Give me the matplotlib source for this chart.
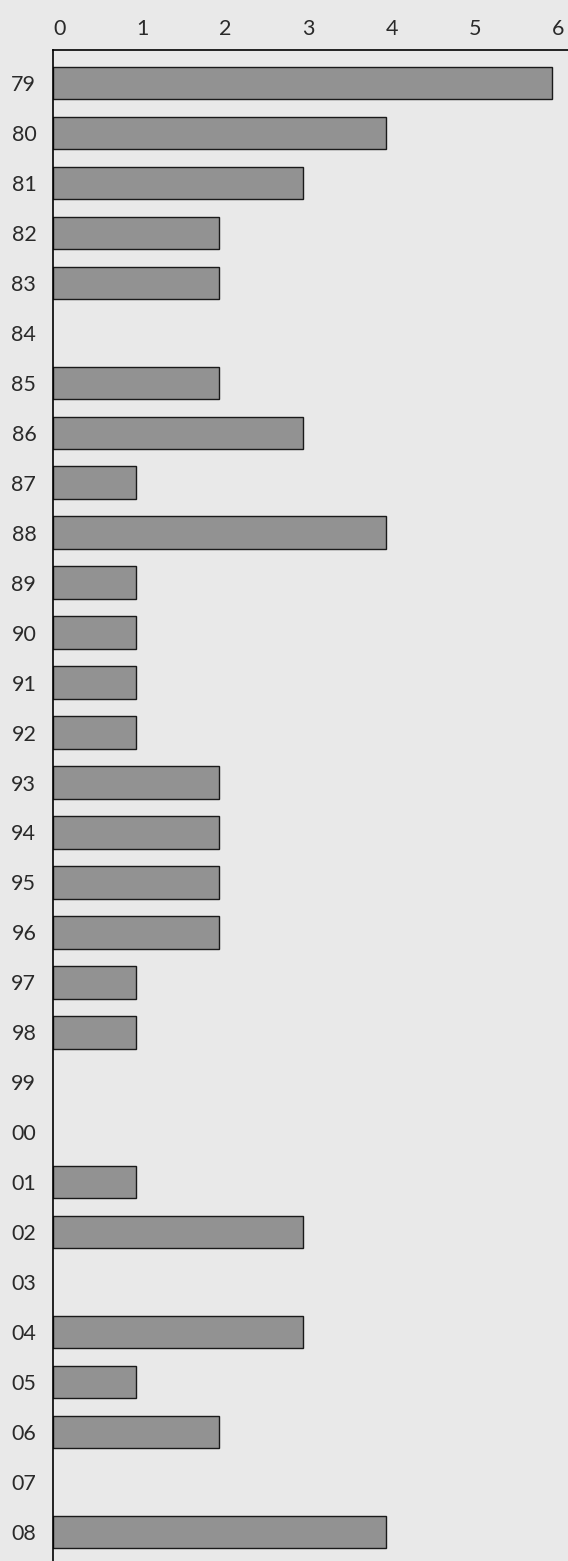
import numpy as np
import matplotlib.pyplot as plt

years = ["79", "80", "81", "82", "83", "84", "85", "86", "87", "88",
         "89", "90", "91", "92", "93", "94", "95", "96", "97", "98",
         "99", "00", "01", "02", "03", "04", "05", "06", "07", "08"]
counts = [6, 4, 3, 2, 2, 0, 2, 3, 1, 4,
          1, 1, 1, 1, 2, 2, 2, 2, 1, 1,
          0, 0, 1, 3, 0, 3, 1, 2, 0, 4]

bg = "#e9e9e9"
plt.rcParams["font.family"] = ["Lato", "DejaVu Sans"]

fig = plt.figure(figsize=(5.68, 15.61), dpi=100, facecolor=bg)
ax = fig.add_axes([53 / 568, 0, 1 - 53 / 568, (1561 - 50) / 1561])
ax.set_facecolor(bg)

y = np.arange(len(years))
widths = [1.0 if c > 0 else 0 for c in counts]
ax.barh(y, counts, height=0.65, color="#929292", edgecolor="#1a1a1a", linewidth=widths)

ax.set_xlim(0, 6.19)
ax.set_ylim(29.58, -0.66)
ax.set_yticks(y)
ax.set_yticklabels(years)
ax.set_xticks(range(7))
ax.xaxis.tick_top()
ax.tick_params(axis="both", length=0, labelsize=15.5, colors="#2a2a2a")
ax.tick_params(axis="y", pad=12)
ax.tick_params(axis="x", pad=8)
for lab in ax.get_xticklabels():
    lab.set_horizontalalignment("left")

ax.spines["right"].set_visible(False)
ax.spines["bottom"].set_visible(False)
ax.spines["top"].set_linewidth(1.2)
ax.spines["left"].set_linewidth(1.2)

fig.savefig("out.png", dpi=100, facecolor=bg)
